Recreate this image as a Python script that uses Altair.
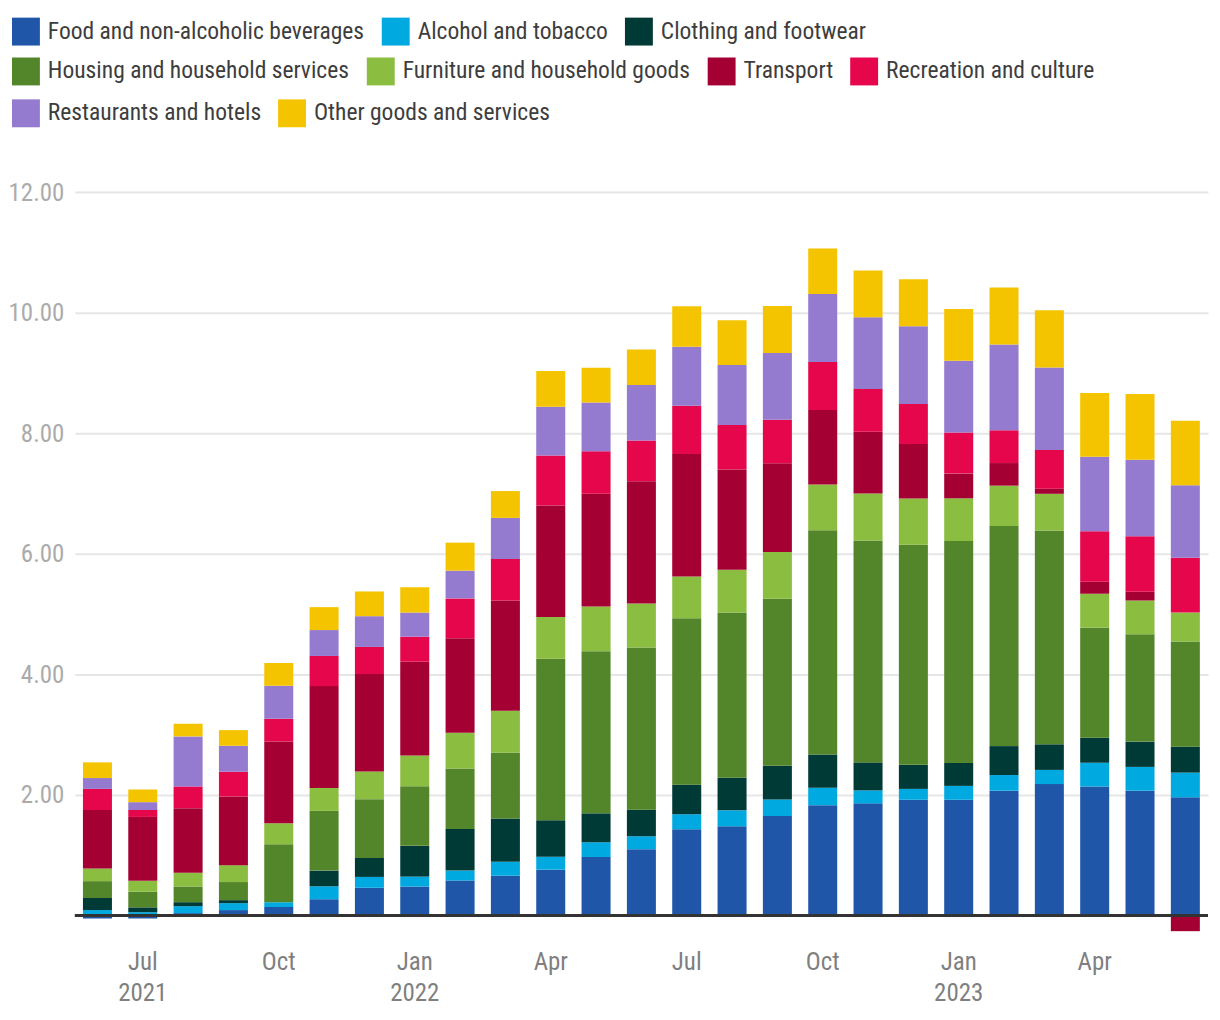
import json
import altair as alt
import pandas as pd

months = ["2021-06", "2021-07", "2021-08", "2021-09", "2021-10", "2021-11", "2021-12",
          "2022-01", "2022-02", "2022-03", "2022-04", "2022-05", "2022-06", "2022-07",
          "2022-08", "2022-09", "2022-10", "2022-11", "2022-12", "2023-01", "2023-02",
          "2023-03", "2023-04", "2023-05", "2023-06"]

categories = ["Food and non-alcoholic beverages", "Alcohol and tobacco", "Clothing and footwear",
              "Housing and household services", "Furniture and household goods", "Transport",
              "Recreation and culture", "Restaurants and hotels", "Other goods and services"]

colors = ["#1f56a8", "#00a9e0", "#003a37", "#53852a", "#8bbd40", "#a50034", "#e6064b",
          "#957bcf", "#f5c400"]

food = [-0.05, -0.05, 0.04, 0.09, 0.14, 0.27, 0.46, 0.48, 0.58, 0.66, 0.76, 0.97, 1.10,
        1.43, 1.48, 1.65, 1.83, 1.86, 1.92, 1.92, 2.07, 2.18, 2.14, 2.07, 1.96]
alcohol = [0.09, 0.055, 0.115, 0.115, 0.08, 0.215, 0.18, 0.165, 0.165, 0.23, 0.215, 0.245,
           0.215, 0.25, 0.265, 0.275, 0.29, 0.215, 0.18, 0.23, 0.26, 0.235, 0.395, 0.395, 0.41]
clothing = [0.20, 0.08, 0.066, 0.05, 0.0, 0.26, 0.315, 0.51, 0.69, 0.72, 0.605, 0.48, 0.44,
            0.49, 0.54, 0.56, 0.55, 0.465, 0.40, 0.38, 0.48, 0.425, 0.415, 0.42, 0.43]
housing = [0.28, 0.26, 0.26, 0.30, 0.96, 0.99, 0.975, 0.99, 1.005, 1.09, 2.68, 2.69, 2.69,
           2.76, 2.74, 2.77, 3.72, 3.68, 3.65, 3.68, 3.65, 3.545, 1.825, 1.78, 1.745]
furniture = [0.21, 0.18, 0.23, 0.28, 0.35, 0.38, 0.46, 0.51, 0.59, 0.695, 0.69, 0.74, 0.73,
             0.695, 0.71, 0.775, 0.76, 0.78, 0.765, 0.71, 0.67, 0.61, 0.56, 0.56, 0.48]
transport = [0.97, 1.06, 1.07, 1.14, 1.355, 1.69, 1.615, 1.555, 1.57, 1.83, 1.85, 1.87, 2.03,
             2.03, 1.665, 1.47, 1.235, 1.025, 0.905, 0.41, 0.375, 0.085, 0.20, 0.145, -0.26]
recreation = [0.35, 0.115, 0.36, 0.41, 0.38, 0.50, 0.45, 0.415, 0.66, 0.69, 0.83, 0.705, 0.675,
              0.80, 0.735, 0.725, 0.795, 0.71, 0.665, 0.68, 0.545, 0.64, 0.84, 0.92, 0.91]
restaurants = [0.18, 0.13, 0.83, 0.43, 0.545, 0.43, 0.51, 0.40, 0.46, 0.68, 0.81, 0.81, 0.92,
               0.98, 0.995, 1.105, 1.13, 1.19, 1.29, 1.19, 1.42, 1.37, 1.235, 1.27, 1.20]
other = [0.26, 0.21, 0.21, 0.26, 0.38, 0.38, 0.41, 0.42, 0.465, 0.445, 0.59, 0.575, 0.59,
         0.67, 0.745, 0.78, 0.755, 0.775, 0.78, 0.86, 0.945, 0.95, 1.055, 1.09, 1.07]

series = [food, alcohol, clothing, housing, furniture, transport, recreation, restaurants, other]

tick_labels = {
    "2021-07": ["Jul", "2021"], "2021-10": ["Oct"], "2022-01": ["Jan", "2022"],
    "2022-04": ["Apr"], "2022-07": ["Jul"], "2022-10": ["Oct"],
    "2023-01": ["Jan", "2023"], "2023-04": ["Apr"],
}
y_ticks = [2, 4, 6, 8, 10, 12]
legend_rows = [[0, 1, 2], [3, 4, 5, 6], [7, 8]]

rows = []
for ci, (cat, vals) in enumerate(zip(categories, series)):
    for m, v in zip(months, vals):
        rows.append({"month": m, "category": cat, "value": v, "order": ci})
df = pd.DataFrame(rows)

FONT = "Liberation Sans Narrow, Roboto Condensed, Arial Narrow, sans-serif"
AXIS_FS = 25
LEG_FS = 23.6

label_expr = ""
for k, v in tick_labels.items():
    label_expr += f"datum.value == '{k}' ? {json.dumps(v)} : "
label_expr += "''"

bars = alt.Chart(df).mark_bar().encode(
    x=alt.X("month:O", sort=months,
            scale=alt.Scale(paddingInner=0.36, paddingOuter=0.18),
            axis=alt.Axis(title=None, labelExpr=label_expr, labelAngle=0, domain=False,
                          ticks=False, labelPadding=16, labelFontSize=AXIS_FS,
                          labelColor="#7f7f7f", labelFont=FONT, labelLineHeight=31,
                          labelOverlap=False, grid=False)),
    y=alt.Y("value:Q", stack="zero",
            scale=alt.Scale(domain=[-0.3, 12], nice=False, zero=False),
            axis=alt.Axis(title=None, values=y_ticks, format=".2f", domain=False,
                          ticks=False, labelPadding=11, labelFontSize=AXIS_FS,
                          labelColor="#ababab", labelFont=FONT,
                          gridColor="#e6e6e6", gridWidth=2)),
    color=alt.Color("category:N", scale=alt.Scale(domain=categories, range=colors),
                    legend=None),
    order=alt.Order("order:Q", sort="ascending"),
)

rule = alt.Chart(pd.DataFrame({"y": [0]})).mark_rule(color="#333333", strokeWidth=3).encode(
    y=alt.Y("y:Q")
)

legend_y = [-175, -135, -93]
legend_layers = []
for ri, idxs in enumerate(legend_rows):
    cats = [categories[i] for i in idxs]
    cols = [colors[i] for i in idxs]
    legend_layers.append(
        alt.Chart(pd.DataFrame({"cat": cats})).mark_square(opacity=0).encode(
            color=alt.Color("cat:N", scale=alt.Scale(domain=cats, range=cols),
                            legend=alt.Legend(title=None, orient="none", legendX=-63,
                                              legendY=legend_y[ri], direction="horizontal",
                                              symbolType="square", symbolSize=784,
                                              symbolOpacity=1, symbolStrokeWidth=0,
                                              labelFont=FONT, labelFontSize=LEG_FS,
                                              labelColor="#3d3d3d", labelOffset=8,
                                              columnPadding=17, padding=0, labelLimit=0))
        )
    )

chart = alt.layer(bars, rule, *legend_layers).resolve_scale(color="independent").properties(
    width=1137, height=744,
    padding={"left": 0, "top": 8, "right": 2, "bottom": 5},
).configure_view(stroke=None)

chart.save("out.html", embed_options={"renderer": "svg", "actions": False})
